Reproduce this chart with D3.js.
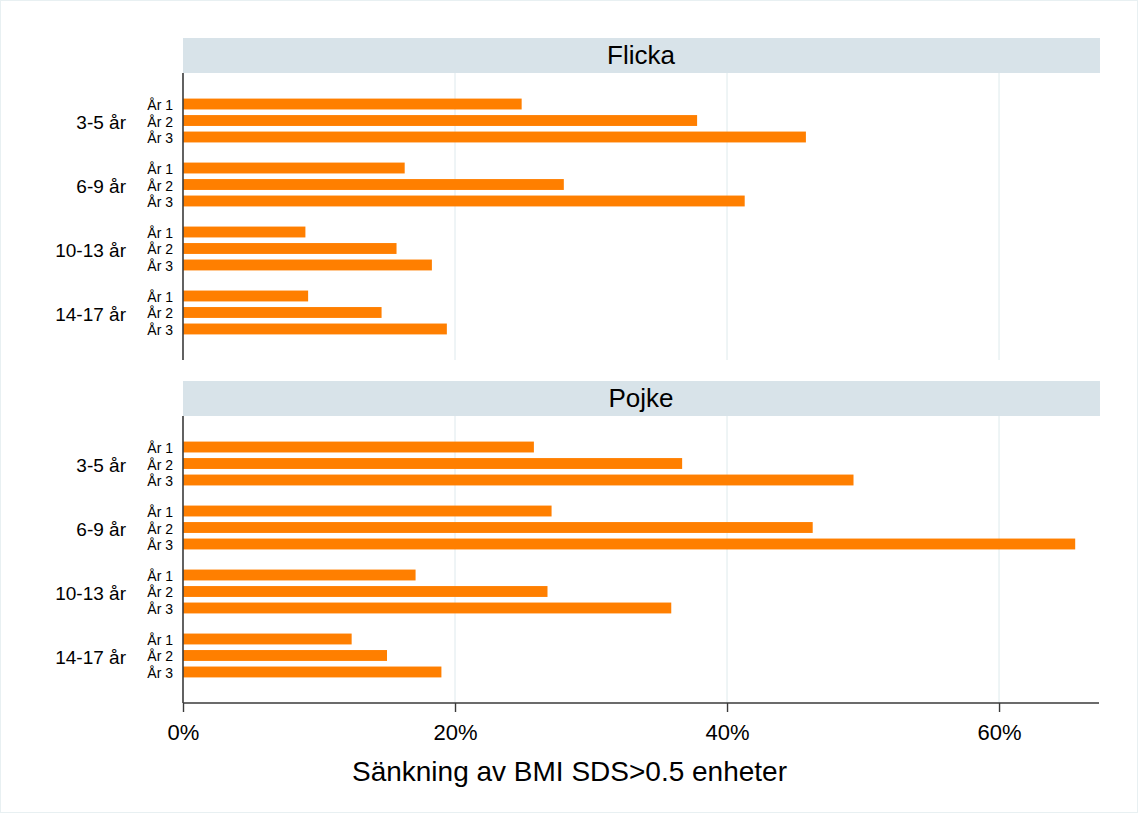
<!DOCTYPE html>
<html>
<head>
<meta charset="utf-8">
<script src="https://cdn.jsdelivr.net/npm/d3@7"></script>
<style>
  body { margin: 0; background: #fff; }
  text { font-family: "Liberation Sans", Arial, sans-serif; fill: #000; }
</style>
</head>
<body>
<script>
const width = 1139;
const height = 814;

// data (percent)
const ageGroups = ['3-5 år', '6-9 år', '10-13 år', '14-17 år'];
const years = ['År 1', 'År 2', 'År 3'];
const flicka = [[24.9, 37.8, 45.8], [16.3, 28.0, 41.3], [9.0, 15.7, 18.3], [9.2, 14.6, 19.4]];
const pojke = [[25.8, 36.7, 49.3], [27.1, 46.3, 65.6], [17.1, 26.8, 35.9], [12.4, 15.0, 19.0]];
const xTicks = [0, 20, 40, 60];

const panels = [
    {name: 'Flicka', values: flicka, top: 38},
    {name: 'Pojke', values: pojke, top: 381}
];

const left = 183, right = 1099;
const headH = 35, plotH = 287;

const xScale = d3.scaleLinear().domain([0, 67.35]).range([left, right]);

const svg = d3.select('body')
    .append('svg')
    .attr('width', width)
    .attr('height', height);

// faint outer frame
svg.append('rect')
    .attr('x', 0.5).attr('y', 0.5)
    .attr('width', width - 2).attr('height', height - 2)
    .attr('fill', '#fff')
    .attr('stroke', '#e8f0f2');

panels.forEach((p, pi) => {
    const plotTop = p.top + headH;
    const plotBot = plotTop + plotH;

    const yGroup = d3.scaleBand()
        .domain(ageGroups)
        .range([plotTop, plotBot])
        .paddingInner(0.227)
        .paddingOuter(0.356);

    const yBar = d3.scaleBand()
        .domain(years)
        .range([0, yGroup.bandwidth()])
        .paddingInner(0.34)
        .paddingOuter(0.17);

    // header strip
    svg.append('rect')
        .attr('x', left).attr('y', p.top)
        .attr('width', right - left + 1).attr('height', headH)
        .attr('fill', '#d8e3e9');
    svg.append('text')
        .attr('x', (left + right) / 2)
        .attr('y', p.top + headH / 2 - 0.5)
        .attr('text-anchor', 'middle')
        .attr('dominant-baseline', 'central')
        .style('font-size', '26px')
        .text(p.name);

    // grid lines
    svg.append('g')
        .selectAll('line')
        .data(xTicks.filter(d => d > 0))
        .enter()
        .append('line')
        .attr('x1', d => xScale(d)).attr('x2', d => xScale(d))
        .attr('y1', plotTop).attr('y2', plotBot)
        .attr('stroke', '#e9f1f3')
        .attr('stroke-width', 1.5);

    // bars
    const g = svg.append('g');
    ageGroups.forEach((ag, gi) => {
        const gy = yGroup(ag);
        g.selectAll('.bar-' + gi)
            .data(p.values[gi])
            .enter()
            .append('rect')
            .attr('x', xScale(0))
            .attr('y', (d, i) => gy + yBar(years[i]))
            .attr('width', d => xScale(d) - xScale(0))
            .attr('height', yBar.bandwidth())
            .attr('fill', '#ff7f00');

        g.selectAll('.yl-' + gi)
            .data(years)
            .enter()
            .append('text')
            .attr('x', 173)
            .attr('y', d => gy + yBar(d) + yBar.bandwidth() / 2 + 1)
            .attr('text-anchor', 'end')
            .attr('dominant-baseline', 'central')
            .style('font-size', '14px')
            .text(d => d);

        g.append('text')
            .attr('x', 126)
            .attr('y', gy + yGroup.bandwidth() / 2 + 2)
            .attr('text-anchor', 'end')
            .attr('dominant-baseline', 'central')
            .style('font-size', '19px')
            .text(ag);
    });

    // left axis line
    svg.append('line')
        .attr('x1', left).attr('x2', left)
        .attr('y1', plotTop).attr('y2', plotBot)
        .attr('stroke', '#3a3a3a')
        .attr('stroke-width', 1.6);

    if (pi === panels.length - 1) {
        const xAxis = d3.axisBottom(xScale)
            .tickValues(xTicks)
            .tickFormat(d => d + '%')
            .tickSize(9)
            .tickPadding(12);
        const ax = svg.append('g')
            .attr('transform', `translate(0, ${plotBot})`)
            .call(xAxis);
        ax.select('.domain')
            .attr('d', `M${left},0H${right}`)
            .attr('stroke', '#3a3a3a')
            .attr('stroke-width', 1.6);
        ax.selectAll('.tick line').attr('stroke', '#3a3a3a').attr('stroke-width', 1.4);
        ax.selectAll('.tick text')
            .style('font-family', '"Liberation Sans", Arial, sans-serif')
            .style('font-size', '22px')
            .attr('fill', '#000');

        svg.append('text')
            .attr('x', width / 2)
            .attr('y', 781)
            .attr('text-anchor', 'middle')
            .style('font-size', '28px')
            .text('Sänkning av BMI SDS>0.5 enheter');
    }
});
</script>
</body>
</html>
